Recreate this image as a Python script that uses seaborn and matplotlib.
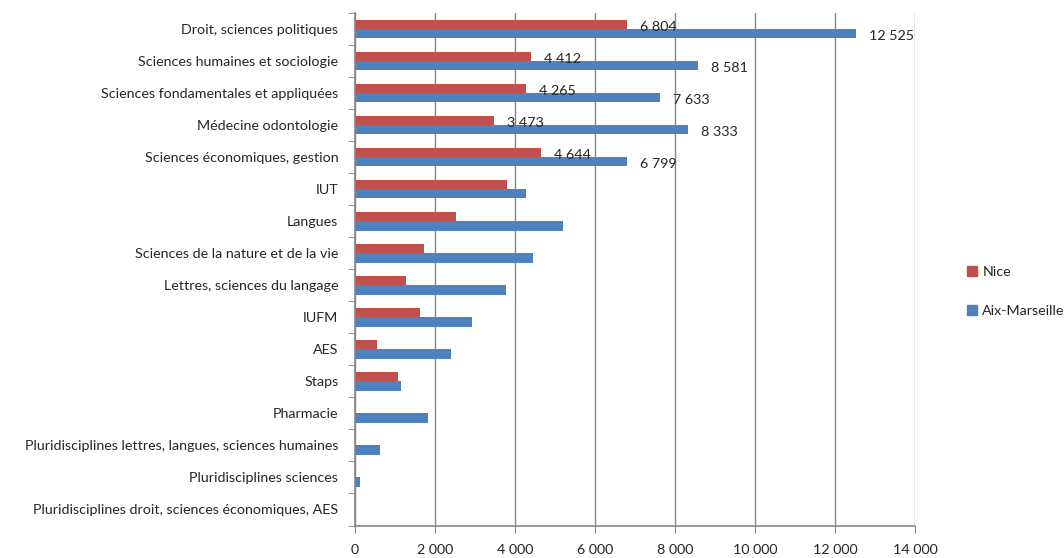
import pandas as pd
import seaborn as sns
import matplotlib.pyplot as plt
from matplotlib.ticker import FuncFormatter, MultipleLocator, FixedLocator

# Data
categories = [
    "Droit, sciences politiques",
    "Sciences humaines et sociologie",
    "Sciences fondamentales et appliquées",
    "Médecine odontologie",
    "Sciences économiques, gestion",
    "IUT",
    "Langues",
    "Sciences de la nature et de la vie",
    "Lettres, sciences du langage",
    "IUFM",
    "AES",
    "Staps",
    "Pharmacie",
    "Pluridisciplines lettres, langues, sciences humaines",
    "Pluridisciplines sciences",
    "Pluridisciplines droit, sciences économiques, AES",
]
nice = [6804, 4412, 4265, 3473, 4644, 3810, 2525, 1717, 1267, 1625, 542, 1083, 0, 0, 30, 0]
aix = [12525, 8581, 7633, 8333, 6799, 4267, 5192, 4442, 3783, 2917, 2400, 1142, 1833, 625, 125, 0]
labelled = 5  # only the first categories carry data labels

def fmt(v):
    return f"{int(v):,}".replace(",", " ")

df = pd.DataFrame({"Catégorie": categories, "Nice": nice, "Aix-Marseille": aix})
df_pl = pd.melt(df, id_vars="Catégorie", value_vars=["Nice", "Aix-Marseille"],
                var_name="Académie", value_name="Effectif")

sns.set_style("white")
plt.rcParams["font.family"] = ["Lato", "DejaVu Sans"]
fs = 10.3

fig, ax = plt.subplots(figsize=(10.64, 5.58), dpi=100)
fig.subplots_adjust(left=355 / 1064, right=915 / 1064, top=1 - 13.3 / 558, bottom=1 - 525.5 / 558)

colors = ["#C0504D", "#4F81BD"]
sns.barplot(data=df_pl, y="Catégorie", x="Effectif", hue="Académie",
            palette=colors, width=0.57, orient="h", ax=ax, legend=False,
            saturation=1, edgecolor="none")

# data labels, a little below the bar centre like the original
for cont, vals in zip(ax.containers, [nice, aix]):
    for i, (bar, v) in enumerate(zip(cont, vals)):
        if i < labelled:
            ax.annotate(fmt(v), (bar.get_width(), bar.get_y() + bar.get_height() / 2),
                        xytext=(13, -2), textcoords="offset pixels",
                        ha="left", va="center", fontsize=fs)

ax.set_xlim(0, 14000)
ax.set_ylim(len(categories) - 0.5, -0.5)
ax.xaxis.set_major_locator(MultipleLocator(2000))
ax.xaxis.set_major_formatter(FuncFormatter(lambda v, p: fmt(v)))
ax.grid(axis="x", color="#868686", linewidth=1)
ax.set_axisbelow(True)

ax.set_xlabel("")
ax.set_ylabel("")
for s in ["top", "right"]:
    ax.spines[s].set_visible(False)
for s in ["left", "bottom"]:
    ax.spines[s].set_color("#868686")
    ax.spines[s].set_linewidth(1.2)

ax.yaxis.set_minor_locator(FixedLocator([i - 0.5 for i in range(len(categories) + 1)]))
ax.tick_params(axis="y", which="major", length=0, pad=12, labelsize=fs)
ax.tick_params(axis="y", which="minor", length=5, color="#868686", direction="out", left=True)
ax.tick_params(axis="x", which="major", length=5, color="#868686", direction="out",
               bottom=True, pad=8, labelsize=fs)

handles = [plt.Rectangle((0, 0), 1, 1, color=c) for c in colors]
fig.legend(handles, ["Nice", "Aix-Marseille"], loc="center left",
           bbox_to_anchor=(0.897, 0.478), frameon=False, fontsize=fs,
           handlelength=0.7, handleheight=0.7, handletextpad=0.35, labelspacing=1.9)

plt.savefig("out.png", dpi=100)
